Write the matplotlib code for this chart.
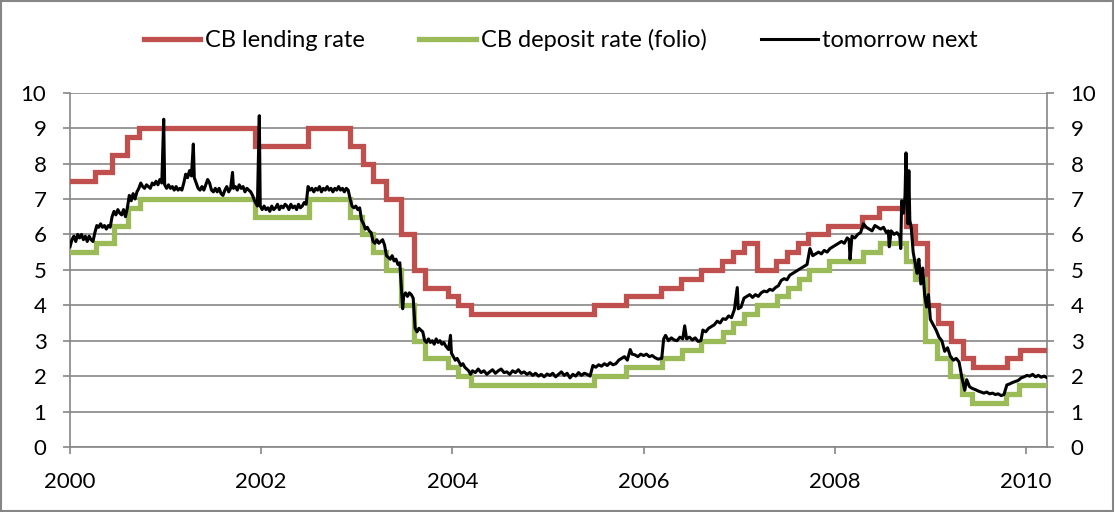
import matplotlib
matplotlib.use("Agg")
import matplotlib.pyplot as plt
from matplotlib.patches import Rectangle

# ---------------- data ----------------
lend_dates = [2000.00, 2000.26, 2000.44, 2000.60, 2000.72, 2001.93, 2002.49, 2002.93,
              2003.06, 2003.17, 2003.31, 2003.46, 2003.60, 2003.71, 2003.95, 2004.06,
              2004.19, 2005.48, 2005.82, 2006.18, 2006.39, 2006.60, 2006.82, 2006.94,
              2007.05, 2007.19, 2007.39, 2007.50, 2007.62, 2007.72, 2007.93, 2008.29,
              2008.46, 2008.75, 2008.84, 2008.96, 2009.08, 2009.22, 2009.34, 2009.45,
              2009.80, 2009.94, 2010.22]
lend_rate = [7.5, 7.75, 8.25, 8.75, 9.0, 8.5, 9.0, 8.5,
             8.0, 7.5, 7.0, 6.0, 5.0, 4.5, 4.25, 4.0,
             3.75, 4.0, 4.25, 4.5, 4.75, 5.0, 5.25, 5.5,
             5.75, 5.0, 5.25, 5.5, 5.75, 6.0, 6.25, 6.5,
             6.75, 6.25, 5.75, 4.0, 3.5, 3.0, 2.5, 2.25,
             2.5, 2.75, 2.75]

dep_dates = [2000.00, 2000.27, 2000.46, 2000.61, 2000.73, 2001.93, 2002.50, 2002.93,
             2003.05, 2003.17, 2003.31, 2003.46, 2003.60, 2003.71, 2003.95, 2004.06,
             2004.19, 2005.48, 2005.82, 2006.19, 2006.40, 2006.60, 2006.83, 2006.94,
             2007.05, 2007.19, 2007.40, 2007.51, 2007.63, 2007.73, 2007.94, 2008.30,
             2008.47, 2008.75, 2008.84, 2008.94, 2009.07, 2009.21, 2009.33, 2009.44,
             2009.79, 2009.93, 2010.22]
dep_rate = [5.5, 5.75, 6.25, 6.75, 7.0, 6.5, 7.0, 6.5,
            6.0, 5.5, 5.0, 4.0, 3.0, 2.5, 2.25, 2.0,
            1.75, 2.0, 2.25, 2.5, 2.75, 3.0, 3.25, 3.5,
            3.75, 4.0, 4.25, 4.5, 4.75, 5.0, 5.25, 5.5,
            5.75, 5.25, 4.75, 3.0, 2.5, 2.0, 1.5, 1.25,
            1.5, 1.75, 1.75]

tn_dates = [
    2000.00, 2000.02, 2000.04, 2000.06, 2000.08, 2000.10, 2000.12, 2000.14, 2000.16, 2000.18,
    2000.20, 2000.22, 2000.24, 2000.26, 2000.28, 2000.30, 2000.32, 2000.34, 2000.36, 2000.38,
    2000.40, 2000.42, 2000.44, 2000.46, 2000.48, 2000.50, 2000.52, 2000.54, 2000.56, 2000.58,
    2000.60, 2000.62, 2000.64, 2000.66, 2000.68, 2000.70, 2000.72, 2000.74, 2000.76, 2000.78,
    2000.80, 2000.82, 2000.84, 2000.86, 2000.88, 2000.90, 2000.92, 2000.94, 2000.96, 2000.98,
    2000.99, 2001.01, 2001.03, 2001.05, 2001.07, 2001.09, 2001.11, 2001.13, 2001.15, 2001.17,
    2001.19, 2001.21, 2001.23, 2001.25, 2001.27, 2001.29, 2001.30, 2001.32, 2001.34, 2001.36,
    2001.38, 2001.40, 2001.42, 2001.44, 2001.46, 2001.48, 2001.50, 2001.52, 2001.54, 2001.56,
    2001.58, 2001.60, 2001.62, 2001.64, 2001.66, 2001.68, 2001.70, 2001.71, 2001.73, 2001.75,
    2001.77, 2001.79, 2001.81, 2001.83, 2001.85, 2001.87, 2001.89, 2001.91, 2001.93, 2001.96,
    2001.98, 2001.99, 2002.01, 2002.03, 2002.05, 2002.07, 2002.09, 2002.11, 2002.13, 2002.15,
    2002.17, 2002.19, 2002.21, 2002.23, 2002.25, 2002.27, 2002.29, 2002.31, 2002.33, 2002.35,
    2002.37, 2002.39, 2002.41, 2002.43, 2002.45, 2002.47, 2002.49, 2002.51, 2002.53, 2002.55,
    2002.57, 2002.59, 2002.61, 2002.63, 2002.65, 2002.67, 2002.69, 2002.71, 2002.73, 2002.75,
    2002.77, 2002.79, 2002.81, 2002.83, 2002.85, 2002.87, 2002.89, 2002.91, 2002.93, 2002.95,
    2002.97, 2002.99, 2003.01, 2003.03, 2003.05, 2003.07, 2003.09, 2003.11, 2003.13, 2003.15,
    2003.17, 2003.19, 2003.21, 2003.23, 2003.25, 2003.27, 2003.29, 2003.31, 2003.33, 2003.35,
    2003.37, 2003.39, 2003.41, 2003.43, 2003.45, 2003.47, 2003.48, 2003.49, 2003.51, 2003.53,
    2003.55, 2003.57, 2003.59, 2003.61, 2003.63, 2003.65, 2003.67, 2003.69, 2003.71, 2003.73,
    2003.75, 2003.77, 2003.79, 2003.81, 2003.83, 2003.85, 2003.87, 2003.89, 2003.91, 2003.93,
    2003.96, 2003.98, 2003.99, 2004.01, 2004.03, 2004.05, 2004.07, 2004.09, 2004.11, 2004.13,
    2004.15, 2004.17, 2004.19, 2004.21, 2004.24, 2004.27, 2004.30, 2004.33, 2004.36, 2004.39,
    2004.42, 2004.45, 2004.48, 2004.51, 2004.54, 2004.57, 2004.60, 2004.63, 2004.66, 2004.69,
    2004.72, 2004.75, 2004.78, 2004.81, 2004.84, 2004.87, 2004.90, 2004.93, 2004.96, 2004.99,
    2005.02, 2005.05, 2005.08, 2005.11, 2005.14, 2005.17, 2005.20, 2005.23, 2005.26, 2005.29,
    2005.32, 2005.35, 2005.38, 2005.41, 2005.44, 2005.47, 2005.50, 2005.53, 2005.56, 2005.59,
    2005.62, 2005.65, 2005.68, 2005.71, 2005.74, 2005.77, 2005.80, 2005.83, 2005.86, 2005.88,
    2005.91, 2005.94, 2005.97, 2006.00, 2006.03, 2006.06, 2006.09, 2006.12, 2006.15, 2006.19,
    2006.21, 2006.23, 2006.26, 2006.29, 2006.32, 2006.35, 2006.38, 2006.41, 2006.43, 2006.45,
    2006.48, 2006.51, 2006.54, 2006.57, 2006.60, 2006.62, 2006.65, 2006.68, 2006.71, 2006.74,
    2006.77, 2006.80, 2006.83, 2006.86, 2006.89, 2006.92, 2006.95, 2006.98, 2006.99, 2007.02,
    2007.05, 2007.08, 2007.11, 2007.14, 2007.17, 2007.20, 2007.23, 2007.26, 2007.29, 2007.32,
    2007.35, 2007.38, 2007.41, 2007.44, 2007.47, 2007.50, 2007.53, 2007.56, 2007.59, 2007.62,
    2007.65, 2007.68, 2007.71, 2007.74, 2007.77, 2007.80, 2007.83, 2007.86, 2007.89, 2007.92,
    2007.95, 2007.98, 2008.01, 2008.04, 2008.07, 2008.10, 2008.13, 2008.15, 2008.16, 2008.18,
    2008.21, 2008.24, 2008.27, 2008.30, 2008.33, 2008.36, 2008.39, 2008.42, 2008.45, 2008.48,
    2008.51, 2008.54, 2008.56, 2008.57, 2008.59, 2008.62, 2008.65, 2008.68, 2008.69, 2008.70,
    2008.72, 2008.735, 2008.745, 2008.755, 2008.765, 2008.775, 2008.785, 2008.80, 2008.82, 2008.84,
    2008.86, 2008.88, 2008.90, 2008.92, 2008.94, 2008.96, 2008.98, 2009.00, 2009.03, 2009.06,
    2009.09, 2009.12, 2009.15, 2009.18, 2009.21, 2009.24, 2009.27, 2009.30, 2009.33, 2009.36,
    2009.38, 2009.41, 2009.44, 2009.47, 2009.50, 2009.53, 2009.56, 2009.59, 2009.62, 2009.65,
    2009.68, 2009.71, 2009.74, 2009.77, 2009.80, 2009.83, 2009.86, 2009.89, 2009.92, 2009.95,
    2009.98, 2010.01, 2010.04, 2010.07, 2010.10, 2010.13, 2010.16, 2010.19, 2010.21]
tn_rate = [
    5.65, 5.85, 5.95, 5.80, 6.00, 5.90, 6.00, 5.85, 5.95, 5.80,
    5.95, 5.85, 5.80, 6.05, 6.25, 6.20, 6.30, 6.20, 6.25, 6.15,
    6.25, 6.20, 6.50, 6.65, 6.55, 6.70, 6.60, 6.55, 6.70, 6.50,
    6.75, 7.10, 6.95, 7.15, 7.00, 7.20, 7.30, 7.45, 7.35, 7.30,
    7.40, 7.35, 7.30, 7.45, 7.40, 7.50, 7.40, 7.55, 7.45, 9.25,
    7.40, 7.30, 7.40, 7.30, 7.35, 7.25, 7.35, 7.25, 7.30, 7.25,
    7.45, 7.70, 7.60, 7.80, 7.65, 8.55, 7.60, 7.45, 7.30, 7.25,
    7.35, 7.25, 7.40, 7.55, 7.45, 7.25, 7.20, 7.30, 7.20, 7.30,
    7.15, 7.10, 7.25, 7.35, 7.20, 7.30, 7.75, 7.30, 7.35, 7.25,
    7.40, 7.30, 7.35, 7.20, 7.30, 7.25, 7.20, 7.10, 6.95, 6.80,
    9.35, 6.80, 6.70, 6.80, 6.70, 6.75, 6.65, 6.80, 6.70, 6.75,
    6.85, 6.70, 6.80, 6.75, 6.85, 6.80, 6.70, 6.85, 6.75, 6.80,
    6.70, 6.85, 6.75, 6.80, 6.90, 6.85, 7.35, 7.25, 7.30, 7.20,
    7.30, 7.25, 7.35, 7.20, 7.30, 7.25, 7.35, 7.25, 7.30, 7.20,
    7.30, 7.25, 7.35, 7.25, 7.30, 7.20, 7.30, 7.25, 7.00, 6.80,
    6.75, 6.80, 6.70, 6.75, 6.40, 6.30, 6.15, 6.20, 6.10, 6.05,
    5.80, 5.75, 5.85, 5.75, 5.80, 5.85, 5.70, 5.40, 5.35, 5.30,
    5.40, 5.25, 5.30, 5.15, 5.20, 4.30, 3.90, 4.25, 4.35, 4.25,
    4.35, 4.30, 4.20, 3.35, 3.25, 3.35, 3.30, 3.25, 3.00, 2.95,
    3.05, 2.95, 3.00, 2.90, 3.05, 2.95, 3.00, 2.90, 2.95, 2.85,
    2.75, 3.15, 2.65, 2.55, 2.45, 2.50, 2.40, 2.30, 2.35, 2.25,
    2.20, 2.15, 2.05, 2.15, 2.10, 2.20, 2.10, 2.15, 2.05, 2.12,
    2.18, 2.08, 2.15, 2.20, 2.10, 2.12, 2.05, 2.15, 2.10, 2.18,
    2.08, 2.12, 2.05, 2.10, 2.02, 2.08, 2.00, 2.05, 1.98, 2.06,
    2.02, 2.08, 1.98, 2.05, 2.12, 2.02, 2.08, 1.95, 2.05, 2.00,
    2.10, 2.02, 2.08, 2.05, 2.00, 2.30, 2.25, 2.32, 2.28, 2.35,
    2.30, 2.38, 2.32, 2.35, 2.45, 2.50, 2.55, 2.45, 2.75, 2.62,
    2.60, 2.55, 2.62, 2.58, 2.62, 2.55, 2.58, 2.52, 2.48, 2.50,
    3.05, 3.15, 3.00, 3.08, 3.02, 3.00, 3.10, 3.05, 3.42, 3.05,
    3.10, 3.02, 3.08, 2.98, 3.00, 3.30, 3.25, 3.35, 3.40, 3.45,
    3.55, 3.50, 3.62, 3.60, 3.70, 3.65, 3.88, 4.50, 3.90, 3.95,
    4.20, 4.25, 4.30, 4.22, 4.30, 4.25, 4.35, 4.40, 4.38, 4.45,
    4.42, 4.50, 4.55, 4.70, 4.75, 4.72, 4.85, 4.90, 4.95, 5.00,
    5.05, 5.10, 5.15, 5.60, 5.40, 5.45, 5.50, 5.45, 5.55, 5.50,
    5.60, 5.65, 5.70, 5.75, 5.80, 5.75, 5.90, 5.85, 5.30, 5.95,
    5.90, 6.00, 6.05, 6.30, 6.20, 6.15, 6.10, 6.25, 6.20, 6.15,
    6.20, 6.05, 6.10, 5.65, 6.10, 6.00, 6.05, 5.95, 5.60, 6.95,
    6.60, 7.10, 8.30, 7.40, 6.30, 7.80, 6.40, 6.20, 5.50, 5.20,
    4.90, 5.30, 4.60, 5.05, 4.30, 3.95, 4.30, 3.60, 3.45, 3.30,
    3.10, 3.00, 2.70, 2.80, 2.55, 2.45, 2.50, 2.40, 1.95, 1.60,
    1.90, 1.70, 1.65, 1.62, 1.58, 1.55, 1.52, 1.55, 1.50, 1.52,
    1.48, 1.50, 1.45, 1.48, 1.75, 1.78, 1.82, 1.85, 1.88, 1.95,
    1.98, 2.02, 2.00, 2.05, 1.98, 2.02, 1.97, 2.00, 1.97]

y_ticks = [0, 1, 2, 3, 4, 5, 6, 7, 8, 9, 10]
x_ticks = [2000, 2002, 2004, 2006, 2008, 2010]
labels = ["CB lending rate", "CB deposit rate (folio)", "tomorrow next"]
colors = ["#C0504D", "#9BBB59", "#000000"]

# ---------------- plot ----------------
plt.rcParams['font.family'] = ['Lato', 'DejaVu Sans']
fig = plt.figure(figsize=(11.15, 5.12), dpi=100)
ax = fig.add_axes([0.0628, 0.127, 0.8762, 0.692])

grid_c = "#868686"
FS = 16
ax.plot(lend_dates, lend_rate, drawstyle="steps-post", color=colors[0], lw=3.8,
        label=labels[0], solid_joinstyle="miter", zorder=3)
ax.plot(dep_dates, dep_rate, drawstyle="steps-post", color=colors[1], lw=3.8,
        label=labels[1], solid_joinstyle="miter", zorder=3)
ax.plot(tn_dates, tn_rate, color=colors[2], lw=2.2, label=labels[2], zorder=4)

ax.set_xlim(2000, 2010.22)
ax.set_ylim(0, 10)
ax.set_yticks(y_ticks)
ax.set_xticks(x_ticks)
ax.set_xticklabels([str(t) for t in x_ticks])
ax.grid(axis="y", color=grid_c, lw=1.2)
ax.set_axisbelow(True)
for s in ["left", "right", "bottom"]:
    ax.spines[s].set_color(grid_c)
    ax.spines[s].set_linewidth(1.2)
ax.spines["top"].set_visible(False)
ax.tick_params(axis="both", colors=grid_c, labelcolor="black", labelsize=FS,
               length=5, width=1.2)
ax.tick_params(axis="x", pad=13)
ax.tick_params(axis="y", pad=12)

ax2 = ax.twinx()
ax2.set_ylim(0, 10)
ax2.set_yticks(y_ticks)
for s in ["left", "right", "bottom", "top"]:
    ax2.spines[s].set_visible(False)
ax2.tick_params(axis="y", colors=grid_c, labelcolor="black", labelsize=FS,
                length=5, width=1.2, pad=12)

leg = fig.legend(loc="center", bbox_to_anchor=(0.503, 0.922), ncol=3, frameon=False,
                 fontsize=17, handlelength=2.4, handletextpad=0.2, columnspacing=2.3)

fig.patches.append(Rectangle((0.0005, 0.001), 0.998, 0.997, transform=fig.transFigure,
                             fill=False, edgecolor=grid_c, lw=1.5))

fig.savefig("out.png", dpi=100)
